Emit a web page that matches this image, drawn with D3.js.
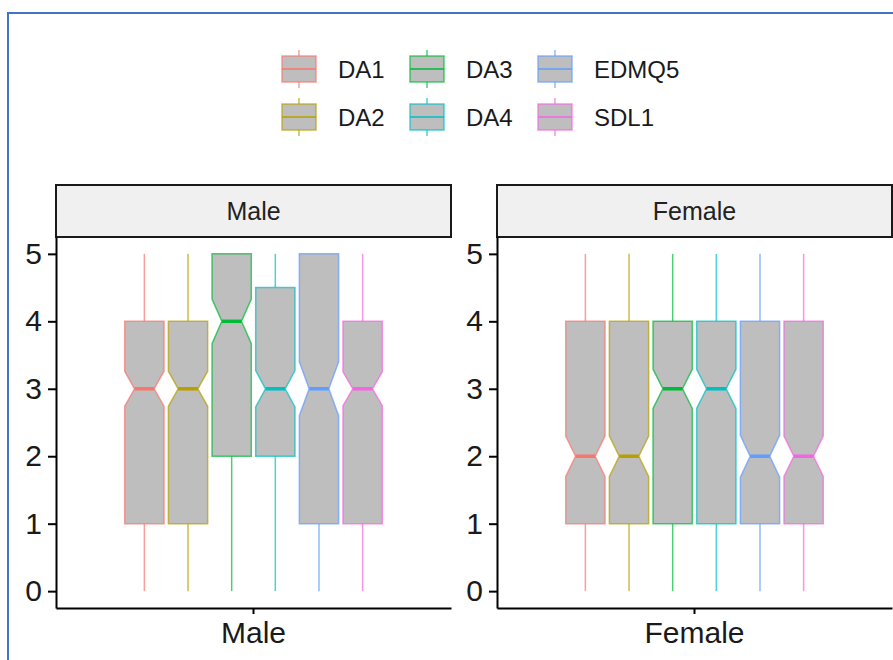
<!DOCTYPE html>
<html>
<head>
<meta charset="utf-8">
<script src="https://cdn.jsdelivr.net/npm/d3@7"></script>
<style>
    body { margin: 0; background: #fff; }
    svg { display: block; font-family: "Liberation Sans", Arial, sans-serif; }
</style>
</head>
<body>
<svg width="893" height="660"></svg>
<script>
// data
const genders = ["Male", "Female"];
const series = ["DA1", "DA2", "DA3", "DA4", "EDMQ5", "SDL1"];
const colors = ["#F8766D", "#B79F00", "#00BA38", "#00BFC4", "#619CFF", "#F564E3"];

const maleMin = [0, 0, 0, 0, 0, 0];
const maleQ1 = [1, 1, 2, 2, 1, 1];
const maleMedian = [3, 3, 4, 3, 3, 3];
const maleQ3 = [4, 4, 5, 4.5, 5, 4];
const maleMax = [5, 5, 5, 5, 5, 5];
const maleNotch = [0.26, 0.26, 0.33, 0.27, 0.40, 0.25];

const femaleMin = [0, 0, 0, 0, 0, 0];
const femaleQ1 = [1, 1, 1, 1, 1, 1];
const femaleMedian = [2, 2, 3, 3, 2, 2];
const femaleQ3 = [4, 4, 4, 4, 4, 4];
const femaleMax = [5, 5, 5, 5, 5, 5];
const femaleNotch = [0.30, 0.30, 0.29, 0.29, 0.31, 0.30];

const yTicks = [0, 1, 2, 3, 4, 5];

function buildStats(min, q1, med, q3, max, notch) {
    return series.map((s, i) => ({
        key: s, color: colors[i],
        min: min[i], q1: q1[i], med: med[i], q3: q3[i], max: max[i],
        lo: med[i] - notch[i], hi: med[i] + notch[i]
    }));
}

const panels = [
    { name: genders[0], stats: buildStats(maleMin, maleQ1, maleMedian, maleQ3, maleMax, maleNotch) },
    { name: genders[1], stats: buildStats(femaleMin, femaleQ1, femaleMedian, femaleQ3, femaleMax, femaleNotch) }
];

const svg = d3.select("svg");

// blue frame around the picture
svg.append("path")
    .attr("d", "M8,660V13H893")
    .attr("fill", "none")
    .attr("stroke", "#4472C4")
    .attr("stroke-width", 2);

const panelW = 395;
const panelLeft = [56, 497];
const stripTop = 185, stripBottom = 237, plotBottom = 608;

const y = d3.scaleLinear().domain([-0.25, 5.25]).range([plotBottom, stripBottom]);

panels.forEach((p, pi) => {
    const g = svg.append("g").attr("transform", `translate(${panelLeft[pi]},0)`);

    const x = d3.scaleBand().domain([p.name]).range([0, panelW]).paddingOuter(0.254);
    const xs = d3.scaleBand().domain(series)
        .range([x(p.name), x(p.name) + x.bandwidth()])
        .paddingInner(0.1).paddingOuter(0.05);

    // strip
    g.append("rect")
        .attr("x", 0).attr("y", stripTop)
        .attr("width", panelW).attr("height", stripBottom - stripTop)
        .attr("fill", "#f0f0f0")
        .attr("stroke", "#1a1a1a")
        .attr("stroke-width", 2);
    g.append("text")
        .attr("x", panelW / 2).attr("y", (stripTop + stripBottom) / 2)
        .attr("text-anchor", "middle")
        .attr("dominant-baseline", "central")
        .attr("font-size", 25)
        .attr("fill", "#222")
        .text(p.name);

    const boxes = g.append("g").selectAll("g")
        .data(p.stats)
        .join("g");

    const hw = xs.bandwidth() / 2;
    const cx = d => xs(d.key) + hw;

    // whiskers
    boxes.append("line")
        .attr("x1", cx).attr("x2", cx)
        .attr("y1", d => y(d.q3)).attr("y2", d => y(d.max))
        .attr("stroke", d => d.color).attr("stroke-opacity", 0.7).attr("stroke-width", 1.5);
    boxes.append("line")
        .attr("x1", cx).attr("x2", cx)
        .attr("y1", d => y(d.q1)).attr("y2", d => y(d.min))
        .attr("stroke", d => d.color).attr("stroke-opacity", 0.7).attr("stroke-width", 1.5);

    // notched box
    boxes.append("path")
        .attr("d", d => {
            const c = cx(d);
            const pts = [
                [c - hw, y(d.q3)], [c + hw, y(d.q3)], [c + hw, y(d.hi)],
                [c + hw / 2, y(d.med)], [c + hw, y(d.lo)], [c + hw, y(d.q1)],
                [c - hw, y(d.q1)], [c - hw, y(d.lo)], [c - hw / 2, y(d.med)],
                [c - hw, y(d.hi)]
            ];
            return d3.line()(pts) + "Z";
        })
        .attr("fill", "#bebebe")
        .attr("stroke", d => d.color)
        .attr("stroke-opacity", 0.7)
        .attr("stroke-width", 1.5);

    // median
    boxes.append("line")
        .attr("x1", d => cx(d) - hw / 2).attr("x2", d => cx(d) + hw / 2)
        .attr("y1", d => y(d.med)).attr("y2", d => y(d.med))
        .attr("stroke", d => d.color)
        .attr("stroke-width", 3.5);

    // axes
    const yAxis = g.append("g")
        .call(d3.axisLeft(y).tickValues(yTicks).tickFormat(d3.format("d"))
            .tickSize(8).tickSizeOuter(0).tickPadding(6));
    const xAxis = g.append("g")
        .attr("transform", `translate(0,${plotBottom})`)
        .call(d3.axisBottom(x).tickSize(6).tickSizeOuter(0).tickPadding(8));

    [yAxis, xAxis].forEach(a => {
        a.select(".domain").attr("stroke", "#000").attr("stroke-width", 2);
        a.selectAll(".tick line").attr("stroke", "#000").attr("stroke-width", 2);
        a.selectAll(".tick text")
            .attr("font-size", 30)
            .attr("fill", "#1a1a1a")
            .attr("font-family", "Liberation Sans, Arial, sans-serif");
    });
});

// legend, two rows filled column by column
const legend = svg.append("g");
const items = legend.selectAll("g")
    .data(series.map((s, i) => ({ key: s, color: colors[i], col: Math.floor(i / 2), row: i % 2 })))
    .join("g")
    .attr("transform", d => `translate(${282 + d.col * 128},${69 + d.row * 48})`);

items.append("line")
    .attr("x1", 17).attr("x2", 17).attr("y1", -19).attr("y2", 19)
    .attr("stroke", d => d.color).attr("stroke-opacity", 0.7).attr("stroke-width", 1.5);
items.append("rect")
    .attr("x", 0).attr("y", -13)
    .attr("width", 34).attr("height", 26)
    .attr("fill", "#bebebe")
    .attr("stroke", d => d.color).attr("stroke-opacity", 0.7).attr("stroke-width", 1.5);
items.append("line")
    .attr("x1", 0).attr("x2", 34).attr("y1", 0).attr("y2", 0)
    .attr("stroke", d => d.color).attr("stroke-width", 1.5);
items.append("text")
    .attr("x", 56).attr("y", 0)
    .attr("dominant-baseline", "central")
    .attr("font-size", 24)
    .attr("fill", "#1a1a1a")
    .text(d => d.key);
</script>
</body>
</html>
